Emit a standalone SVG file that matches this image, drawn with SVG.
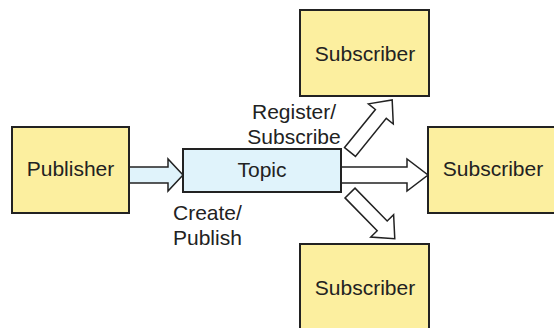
<svg xmlns="http://www.w3.org/2000/svg" width="554" height="328" viewBox="0 0 554 328">
<style>
.node{fill:#fcef9f;stroke:#222;stroke-width:2}
.topic{fill:#e0f3fb;stroke:#222;stroke-width:2}
.arr{fill:#fff;stroke:#222;stroke-width:1.5;stroke-linejoin:miter}
.arrb{fill:#e0f3fb;stroke:#222;stroke-width:1.5}
text{font-family:"Liberation Sans",Arial,sans-serif;font-size:21px;fill:#222}
.c{text-anchor:middle}
</style>
<rect width="554" height="328" fill="#fff"/>
<g id="connectors">
<polygon class="arrb" points="129,167 168,167 168,159 183,175 168,191 168,183 129,183"/>
<polygon class="arr" points="341,167 407,167 407,159 428,175 407,191 407,183 341,183"/>
<polygon class="arr" transform="translate(350,152) rotate(-51)" points="0,-7 49,-7 49,-16 67,0 49,16 49,7 0,7"/>
<polygon class="arr" transform="translate(350,193) rotate(45.6)" points="0,-7 46,-7 46,-16 64,0 46,16 46,7 0,7"/>
<text x="294" y="119" class="c">Register/</text>
<text x="294" y="144" class="c">Subscribe</text>
<text x="173" y="220">Create/</text>
<text x="173" y="245">Publish</text>
</g>
<g id="publisher">
<rect class="node" x="12" y="127" width="117" height="86"/>
<text x="70.5" y="176" class="c">Publisher</text>
</g>
<g id="topic">
<rect class="topic" x="183" y="149" width="158" height="43"/>
<text x="262" y="177" class="c">Topic</text>
</g>
<g id="subscriber-top">
<rect class="node" x="300" y="10" width="129" height="86"/>
<text x="365" y="61" class="c">Subscriber</text>
</g>
<g id="subscriber-right">
<rect class="node" x="428" y="127" width="130" height="86"/>
<text x="493" y="176" class="c">Subscriber</text>
</g>
<g id="subscriber-bottom">
<rect class="node" x="300" y="244" width="129" height="90"/>
<text x="365" y="295" class="c">Subscriber</text>
</g>
</svg>
